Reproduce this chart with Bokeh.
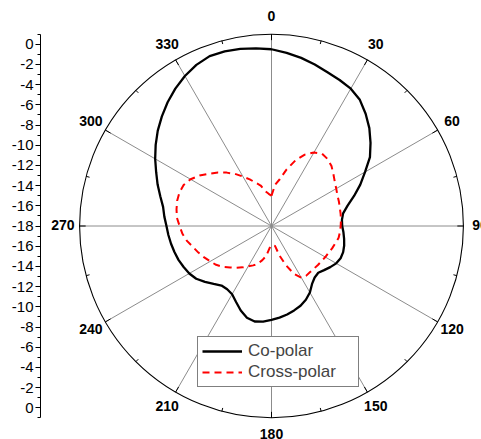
import numpy as np
from bokeh.plotting import figure
from bokeh.models import LinearAxis, FixedTicker, Range1d, Legend, LegendItem
from bokeh.core.properties import value
from bokeh.embed import file_html
from bokeh.resources import INLINE

# ---- data (dB vs angle in degrees, clockwise from top) ----
angles = list(range(0, 360, 5))
co_polar = [-0.5, -0.8, -1.1, -1.45, -1.8, -2.05, -2.3, -2.75, -3.5, -4.3,
            -5.2, -6.1, -7.3, -8.3, -9.3, -10.2, -10.8, -11.0, -11.0, -10.85,
            -10.7, -10.55, -10.45, -10.45, -10.6, -10.9, -11.2, -11.45, -11.35, -11.0,
            -10.4, -9.95, -9.6, -9.35, -9.1, -8.9, -8.7, -8.5, -8.4, -8.6,
            -9.1, -9.7, -10.2, -10.35, -10.3, -9.9, -9.4, -8.9, -8.6, -8.4,
            -8.2, -8.05, -7.9, -7.75, -7.6, -7.35, -7.1, -6.6, -6.0, -5.4,
            -4.7, -4.0, -3.3, -2.65, -2.0, -1.4, -0.85, -0.4, -0.1, -0.1,
            -0.2, -0.35]
cross_polar = [-15.0, -13.9, -13.3, -12.2, -11.1, -10.2, -9.6, -9.27, -9.35, -9.6,
               -10.0, -10.35, -10.6, -10.8, -10.9, -11.0, -11.05, -11.1, -11.15, -11.2,
               -11.25, -11.45, -11.6, -11.75, -11.85, -11.95, -12.0, -12.04, -12.05, -12.0,
               -12.1, -12.8, -13.9, -15.0, -16.0, -16.1, -16.1, -15.8, -15.0, -14.5,
               -14.0, -13.7, -13.4, -13.0, -12.6, -12.2, -11.7, -11.3, -11.0, -10.65,
               -10.3, -9.95, -9.5, -9.15, -8.9, -8.6, -8.45, -8.33, -8.3, -8.4,
               -8.75, -9.3, -9.95, -10.5, -11.1, -11.7, -12.35, -12.9, -13.45, -13.85,
               -14.5, -14.8]
grid_angles = [0, 30, 60, 90, 120, 150, 180, 210, 240, 270, 300, 330]
angle_labels = ["0", "30", "60", "90", "120", "150", "180", "210", "240", "270", "300", "330"]
minor_angles = [15, 45, 75, 105, 135, 165, 195, 225, 255, 285, 315, 345]
r_min, r_max = -18, 1
radial_ticks = list(range(-18, 19, 2))
radial_labels = {t: str(-(18 - abs(t))) for t in radial_ticks}

OFF = -r_min            # radius offset: -18 dB at centre
R = r_max - r_min       # outer circle radius (19)


def to_xy(ang_deg, rad):
    a = np.radians(np.asarray(ang_deg, dtype=float))
    rr = np.asarray(rad, dtype=float)
    return rr * np.sin(a), rr * np.cos(a)


S = 10.1  # px per unit
W, H, LB = 481, 439, 40
cx, cy = 271.0, 225.5
x_range = Range1d((LB - cx) / S, (W - cx) / S)
y_range = Range1d(-(H - cy) / S, cy / S)

p = figure(width=W, height=H, x_range=x_range, y_range=y_range,
           x_axis_type=None, y_axis_type=None, toolbar_location=None,
           output_backend="svg", min_border_left=LB, min_border_right=0,
           min_border_top=0, min_border_bottom=0)
p.outline_line_color = None
p.background_fill_color = "white"

# spokes
ga = np.array(grid_angles)
sx, sy = to_xy(ga, np.full(len(ga), R))
p.segment(x0=np.zeros(len(ga)), y0=np.zeros(len(ga)), x1=sx, y1=sy,
          line_color="#8c8c8c", line_width=1)

# outer circle
p.circle(x=[0], y=[0], radius=R, fill_color=None, line_color="black", line_width=1.1)

# angular ticks (inward)
tx0, ty0 = to_xy(ga, np.full(len(ga), R))
tx1, ty1 = to_xy(ga, np.full(len(ga), R - 0.6))
p.segment(x0=tx0, y0=ty0, x1=tx1, y1=ty1, line_color="black", line_width=1)
ma = np.array(minor_angles)
mx0, my0 = to_xy(ma, np.full(len(ma), R))
mx1, my1 = to_xy(ma, np.full(len(ma), R - 0.35))
p.segment(x0=mx0, y0=my0, x1=mx1, y1=my1, line_color="black", line_width=1)

# angle labels
lx, ly = to_xy(ga, np.full(len(ga), 20.65))
p.text(x=lx, y=ly + 0.1, text=angle_labels, text_align="center", text_baseline="middle",
       text_font=value("Liberation Sans"), text_font_style="bold", text_font_size="14px",
       text_color="black")

# curves
ang_c = angles + [angles[0]]
cx_, cy_ = to_xy(ang_c, np.array(co_polar + [co_polar[0]]) + OFF)
xx_, xy_ = to_xy(ang_c, np.array(cross_polar + [cross_polar[0]]) + OFF)
r_co = p.line(cx_, cy_, line_color="black", line_width=2.3)
r_x = p.line(xx_, xy_, line_color="red", line_width=2, line_dash="7 5")

# left radial axis
ax = LinearAxis(ticker=FixedTicker(ticks=radial_ticks, minor_ticks=list(range(-19, 20))),
                major_label_overrides=radial_labels, bounds=(-19, 19))
ax.major_tick_in = 0
ax.major_tick_out = 5
ax.minor_tick_in = 0
ax.minor_tick_out = 3
ax.major_label_standoff = 2
ax.major_label_text_font = "Liberation Sans"
ax.major_label_text_font_size = "15px"
ax.major_label_text_color = "black"
ax.axis_line_color = "black"
ax.major_tick_line_color = "black"
ax.minor_tick_line_color = "black"
p.add_layout(ax, "left")

legend = Legend(items=[LegendItem(label="Co-polar", renderers=[r_co]),
                       LegendItem(label="Cross-polar", renderers=[r_x])],
                location=(157, 52))
legend.label_text_font = "Liberation Sans"
legend.label_text_font_size = "17px"
legend.glyph_width = 40
legend.glyph_height = 20
legend.label_height = 20
legend.label_width = 106
legend.spacing = 1
legend.padding = 4
legend.margin = 0
legend.label_standoff = 6
legend.border_line_color = "black"
legend.border_line_width = 1
legend.background_fill_alpha = 1
p.add_layout(legend, "center")

open("out.html", "w").write(file_html(p, INLINE))
